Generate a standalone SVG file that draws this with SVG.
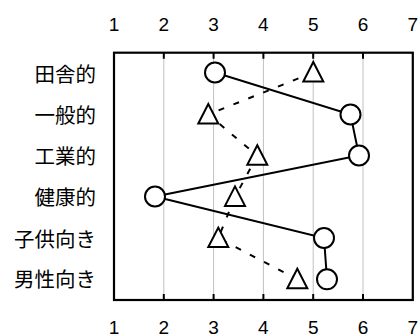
<svg xmlns="http://www.w3.org/2000/svg" width="419" height="335" viewBox="0 0 419 335">
<style>
.num{font-family:"Liberation Sans",Arial,sans-serif;font-size:19px;fill:#000;text-anchor:middle}
.lab{font-family:"Liberation Sans","Noto Sans CJK JP",sans-serif;font-size:20.5px;fill:#000;text-anchor:end}
.grid{stroke:#c0c0c0;stroke-width:1}
.frame{fill:none;stroke:#000;stroke-width:2.2}
.tick{stroke:#000;stroke-width:2}
.solid{fill:none;stroke:#000;stroke-width:2}
.dash{fill:none;stroke:#000;stroke-width:2;stroke-dasharray:6 10}
.circ{fill:#fff;stroke:#000;stroke-width:2}
.tri{fill:#fff;stroke:#000;stroke-width:2}
</style>
<defs>
<polygon id="t" points="0,-10.5 10,9 -10,9"/>
</defs>
<g id="axis-top">
<text class="num" x="114" y="30.5">1</text>
<text class="num" x="163.8" y="30.5">2</text>
<text class="num" x="213.6" y="30.5">3</text>
<text class="num" x="263.4" y="30.5">4</text>
<text class="num" x="313.2" y="30.5">5</text>
<text class="num" x="363" y="30.5">6</text>
<text class="num" x="412.8" y="30.5">7</text>
</g>
<g id="axis-bottom">
<text class="num" x="114" y="333.8">1</text>
<text class="num" x="163.8" y="333.8">2</text>
<text class="num" x="213.6" y="333.8">3</text>
<text class="num" x="263.4" y="333.8">4</text>
<text class="num" x="313.2" y="333.8">5</text>
<text class="num" x="363" y="333.8">6</text>
<text class="num" x="412.8" y="333.8">7</text>
</g>
<g id="labels">
<text class="lab" x="96" y="81.5">田舎的</text>
<text class="lab" x="96" y="122.5">一般的</text>
<text class="lab" x="96" y="163.5">工業的</text>
<text class="lab" x="96" y="204.5">健康的</text>
<text class="lab" x="96" y="246.5">子供向き</text>
<text class="lab" x="96" y="286.5">男性向き</text>
</g>
<g id="grid">
<line class="grid" x1="163.8" y1="52.7" x2="163.8" y2="300"/>
<line class="grid" x1="213.6" y1="52.7" x2="213.6" y2="300"/>
<line class="grid" x1="263.4" y1="52.7" x2="263.4" y2="300"/>
<line class="grid" x1="313.2" y1="52.7" x2="313.2" y2="300"/>
<line class="grid" x1="363" y1="52.7" x2="363" y2="300"/>
</g>
<g id="frame">
<rect class="frame" x="114" y="52.7" width="298.8" height="247.3"/>
<path class="tick" d="M163.8 52.7v6M213.6 52.7v6M263.4 52.7v6M313.2 52.7v6M363 52.7v6M163.8 300v-6M213.6 300v-6M263.4 300v-6M313.2 300v-6M363 300v-6"/>
</g>
<g id="connectors">
<polyline class="dash" points="313.3,72.5 208.3,114.5 257.3,155.7 235,196.9 218.3,238.1 297.3,279.3"/>
<polyline class="solid" points="215,72.5 350.5,114.5 359,155.5 155,196.5 324,238 327,279.3"/>
</g>
<g id="triangles">
<use href="#t" class="tri" x="313.3" y="72.5"/>
<use href="#t" class="tri" x="208.3" y="114.5"/>
<use href="#t" class="tri" x="257.3" y="155.7"/>
<use href="#t" class="tri" x="235" y="196.9"/>
<use href="#t" class="tri" x="218.3" y="238.1"/>
<use href="#t" class="tri" x="297.3" y="279.3"/>
</g>
<g id="circles">
<circle class="circ" cx="215" cy="72.5" r="10"/>
<circle class="circ" cx="350.5" cy="114.5" r="10"/>
<circle class="circ" cx="359" cy="155.5" r="10"/>
<circle class="circ" cx="155" cy="196.5" r="10"/>
<circle class="circ" cx="324" cy="238" r="10"/>
<circle class="circ" cx="327" cy="279.3" r="10"/>
</g>
</svg>
